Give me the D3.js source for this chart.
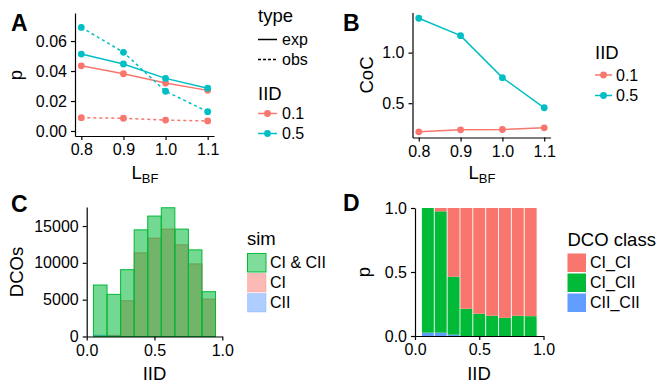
<!DOCTYPE html>
<html><head><meta charset="utf-8">
<script src="https://cdn.jsdelivr.net/npm/d3@7"></script>
<style>body{margin:0;background:#fff}svg{display:block;font-family:"Liberation Sans",Arial,Helvetica,sans-serif}</style>
</head><body><svg id="c" width="659" height="386"></svg>
<script>
// ---- data ----
const lbf = [0.8, 0.9, 1.0, 1.1];
const pExp01 = [0.0435, 0.0382, 0.0320, 0.0271];
const pObs01 = [0.0089, 0.0085, 0.0073, 0.0067];
const pExp05 = [0.0513, 0.0447, 0.0351, 0.0285];
const pObs05 = [0.0691, 0.0525, 0.0265, 0.0129];
const coc01 = [0.217, 0.237, 0.240, 0.257];
const coc05 = [1.340, 1.168, 0.753, 0.455];
const iidBins = [0.1, 0.2, 0.3, 0.4, 0.5, 0.6, 0.7, 0.8, 0.9];
const dcoBoth = [6990, 5720, 9070, 14480, 16350, 17480, 14580, 11760, 6080];
const dcoCI = [0, 100, 4850, 11350, 13350, 14580, 12440, 9850, 5080];
const dcoCII = [160, 150, 0, 0, 0, 0, 0, 0, 0];
const propCICI = [0.000, 0.026, 0.537, 0.787, 0.826, 0.842, 0.858, 0.842, 0.845];
const propCICII = [0.974, 0.948, 0.453, 0.213, 0.174, 0.158, 0.142, 0.158, 0.155];
const propCIICII = [0.026, 0.026, 0.010, 0, 0, 0, 0, 0, 0];
const ticksLBF = [0.8, 0.9, 1.0, 1.1];
const ticksPA = [0.00, 0.02, 0.04, 0.06];
const ticksCoC = [0.5, 1.0];
const ticksDCO = [0, 5000, 10000, 15000];
const ticksUnit = [0, 0.5, 1.0];
const simLevels = ["CI & CII", "CI", "CII"];
const classLevels = ["CI_CI", "CI_CII", "CII_CII"];
const iidLevels = ["0.1", "0.5"];
const typeLevels = ["exp", "obs"];

// ---- style ----
const red = '#F8766D', teal = '#00BFC4', green = '#00BA38', blue = '#619CFF';
const FS = {tick: 16, title: 18.5, legT: 18.5, leg: 16, letter: 23};
const svg = d3.select('#c');

function axes(x, y, xt, yt, xf, yf) {
  const gx = svg.append('g').attr('transform', `translate(0,${y.range()[0]})`)
    .call(d3.axisBottom(x).tickValues(xt).tickFormat(xf).tickSize(4).tickPadding(4).tickSizeOuter(0));
  const gy = svg.append('g').attr('transform', `translate(${x.range()[0]},0)`)
    .call(d3.axisLeft(y).tickValues(yt).tickFormat(yf).tickSize(4).tickPadding(4).tickSizeOuter(0));
  [gx, gy].forEach(g => {
    g.selectAll('path,line').attr('stroke', '#000').attr('stroke-width', 1.2);
    g.selectAll('text').attr('font-size', FS.tick).attr('fill', '#000').attr('font-family', null);
  });
}
function letter(t, x, y) {
  svg.append('text').attr('x', x).attr('y', y).attr('font-size', FS.letter).attr('font-weight', 'bold').text(t);
}
function ytitle(t, x, y) {
  svg.append('text').attr('transform', `translate(${x},${y}) rotate(-90)`).attr('text-anchor', 'middle')
    .attr('font-size', FS.title).text(t);
}
function xtitleLBF(cx, y) {
  const t = svg.append('text').attr('x', cx).attr('y', y).attr('text-anchor', 'middle').attr('font-size', FS.title);
  t.append('tspan').text('L');
  t.append('tspan').attr('font-size', 13).attr('dy', 4).text('BF');
}
function xtitle(t, cx, y) {
  svg.append('text').attr('x', cx).attr('y', y).attr('text-anchor', 'middle').attr('font-size', FS.title).text(t);
}
function legTitle(t, x, y) {
  svg.append('text').attr('x', x).attr('y', y).attr('font-size', FS.legT).text(t);
}
function legLabel(t, x, y) {
  svg.append('text').attr('x', x).attr('y', y).attr('dy', '0.36em').attr('font-size', FS.leg).text(t);
}
function series(x, y, xs, ys, col, dashed) {
  const line = d3.line().x((d, i) => x(xs[i])).y(d => y(d));
  svg.append('path').datum(ys).attr('d', line).attr('fill', 'none').attr('stroke', col)
    .attr('stroke-width', 1.5).attr('stroke-dasharray', dashed ? '3,3' : null);
  svg.append('g').selectAll('circle').data(ys).join('circle')
    .attr('cx', (d, i) => x(xs[i])).attr('cy', d => y(d)).attr('r', 3.4).attr('fill', col);
}

// ---- Panel A ----
{
  const x = d3.scaleLinear().domain([0.785, 1.115]).range([75, 214]);
  const y = d3.scaleLinear().domain([-0.00333, 0.0787]).range([136, 13]);
  series(x, y, lbf, pObs01, red, true);
  series(x, y, lbf, pExp01, red, false);
  series(x, y, lbf, pObs05, teal, true);
  series(x, y, lbf, pExp05, teal, false);
  axes(x, y, ticksLBF, ticksPA, d3.format('.1f'), d3.format('.2f'));
  letter('A', 11, 31);
  ytitle('p', 22, 75);
  xtitleLBF(145, 179);
  legTitle('type', 258, 22);
  typeLevels.forEach((t, i) => {
    const yy = 39.5 + i * 20;
    svg.append('line').attr('x1', 258).attr('x2', 277).attr('y1', yy).attr('y2', yy)
      .attr('stroke', '#000').attr('stroke-width', 1.5).attr('stroke-dasharray', i ? '3,2' : null);
    legLabel(t, 282, yy);
  });
  legTitle('IID', 258, 100);
  iidLevels.forEach((t, i) => {
    const yy = 113.5 + i * 20, col = [red, teal][i];
    svg.append('line').attr('x1', 258).attr('x2', 277).attr('y1', yy).attr('y2', yy).attr('stroke', col).attr('stroke-width', 1.5);
    svg.append('circle').attr('cx', 267.5).attr('cy', yy).attr('r', 3.4).attr('fill', col);
    legLabel(t, 282, yy);
  });
}

// ---- Panel B ----
{
  const x = d3.scaleLinear().domain([0.785, 1.115]).range([412.5, 550.5]);
  const y = d3.scaleLinear().domain([0.161, 1.396]).range([137.5, 12.6]);
  series(x, y, lbf, coc01, red, false);
  series(x, y, lbf, coc05, teal, false);
  axes(x, y, ticksLBF, ticksCoC, d3.format('.1f'), d3.format('.1f'));
  letter('B', 343, 31);
  ytitle('CoC', 373, 75);
  xtitleLBF(482, 179);
  legTitle('IID', 595, 59);
  iidLevels.forEach((t, i) => {
    const yy = 75 + i * 20.5, col = [red, teal][i];
    svg.append('line').attr('x1', 595).attr('x2', 612).attr('y1', yy).attr('y2', yy).attr('stroke', col).attr('stroke-width', 1.5);
    svg.append('circle').attr('cx', 603.5).attr('cy', yy).attr('r', 3.4).attr('fill', col);
    legLabel(t, 616, yy);
  });
}

// ---- Panel C ----
{
  const x = d3.scaleLinear().domain([0, 1]).range([86.7, 222.3]);
  const y = d3.scaleLinear().domain([0, 17582]).range([336.5, 207]);
  const bw = 0.1;
  const layers = [[dcoCII, blue, 0.55], [dcoCI, red, 0.6], [dcoBoth, green, 0.55]];
  layers.forEach(([vals, col, op]) => {
    svg.append('g').selectAll('rect').data(vals).join('rect')
      .attr('x', (d, i) => x(iidBins[i] - bw / 2)).attr('width', x(bw) - x(0))
      .attr('y', d => y(d)).attr('height', d => y(0) - y(d))
      .attr('fill', col).attr('fill-opacity', op)
      .attr('stroke', col).attr('stroke-width', d => d > 0 ? 1 : 0);
  });
  axes(x, y, ticksUnit, ticksDCO, d3.format('.1f'), d3.format('d'));
  letter('C', 11, 211.5);
  ytitle('DCOs', 22.5, 272);
  xtitle('IID', 154.5, 380);
  legTitle('sim', 247, 245);
  const cols = [green, red, blue];
  simLevels.forEach((t, i) => {
    const y0 = 253 + i * 20;
    svg.append('rect').attr('x', 247.5).attr('y', y0 + 0.5).attr('width', 18.5).attr('height', 18.5)
      .attr('fill', cols[i]).attr('fill-opacity', 0.5).attr('stroke', cols[i]).attr('stroke-opacity', i ? 0.3 : 1);
    legLabel(t, 270, y0 + 9.5);
  });
}

// ---- Panel D ----
{
  const x = d3.scaleLinear().domain([0, 1]).range([415, 543.5]);
  const y = d3.scaleLinear().domain([0, 1]).range([336, 208]);
  const rows = iidBins.map((b, i) => ({iid: b, CII_CII: propCIICII[i], CI_CII: propCICII[i], CI_CI: propCICI[i]}));
  const stack = d3.stack().keys(['CII_CII', 'CI_CII', 'CI_CI'])(rows);
  const colMap = {CI_CI: red, CI_CII: green, CII_CII: blue};
  stack.forEach(s => {
    svg.append('g').selectAll('rect').data(s).join('rect')
      .attr('x', d => x(d.data.iid - 0.05)).attr('width', x(0.1) - x(0))
      .attr('y', d => y(d[1])).attr('height', d => y(d[0]) - y(d[1]))
      .attr('fill', colMap[s.key]);
  });
  svg.append('g').selectAll('line').data(iidBins).join('line')
    .attr('x1', d => x(d - 0.05)).attr('x2', d => x(d - 0.05)).attr('y1', y(1)).attr('y2', y(0))
    .attr('stroke', '#fff').attr('stroke-opacity', 0.85).attr('stroke-width', 1);
  svg.append('line').attr('x1', x(0.95)).attr('x2', x(0.95)).attr('y1', y(1)).attr('y2', y(0))
    .attr('stroke', '#fff').attr('stroke-opacity', 0.85).attr('stroke-width', 1);
  axes(x, y, ticksUnit, ticksUnit, d3.format('.1f'), d3.format('.1f'));
  letter('D', 343, 211);
  ytitle('p', 370, 272);
  xtitle('IID', 479, 380);
  legTitle('DCO class', 567.5, 246);
  const cols = [red, green, blue];
  classLevels.forEach((t, i) => {
    const y0 = 253 + i * 20;
    svg.append('rect').attr('x', 567.5).attr('y', y0 + 0.5).attr('width', 18.5).attr('height', 18.5).attr('fill', cols[i]);
    legLabel(t, 590, y0 + 9.5);
  });
}
</script></body></html>
